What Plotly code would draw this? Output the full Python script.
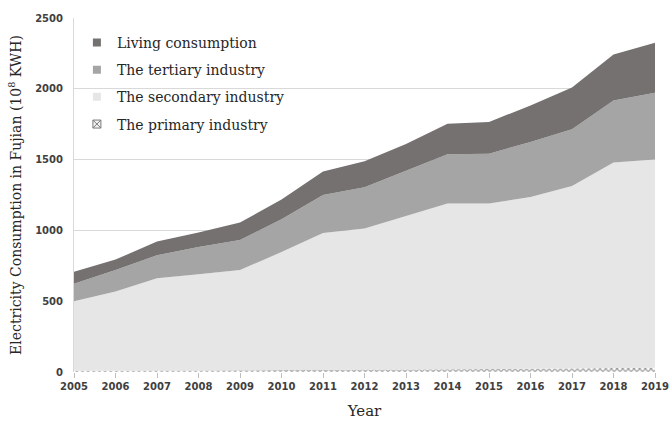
import plotly.graph_objects as go

# Electricity consumption in Fujian by sector (10^8 kWh)
years = [2005, 2006, 2007, 2008, 2009, 2010, 2011, 2012, 2013, 2014, 2015, 2016, 2017, 2018, 2019]
primary = [8, 9, 10, 11, 12, 14, 15, 17, 18, 20, 21, 23, 25, 28, 30]
secondary = [492, 560, 652, 679, 708, 833, 967, 997, 1084, 1170, 1169, 1213, 1288, 1451, 1470]
tertiary = [123, 152, 162, 192, 212, 232, 268, 291, 319, 347, 352, 389, 402, 438, 472]
living = [85, 73, 97, 104, 124, 139, 166, 183, 190, 217, 224, 257, 295, 326, 354]

names = ["The primary industry", "The secondary industry", "The tertiary industry", "Living consumption"]
colors = ["#ffffff", "#e7e6e6", "#a5a5a5", "#767171"]
pattern = dict(shape="x", fgcolor="#3a3a3a", bgcolor="#ffffff", size=4, solidity=0.5)

serif = "DejaVu Serif"
sans = "DejaVu Sans"

fig = go.Figure()

# stacked areas, bottom to top
for i, vals in enumerate([primary, secondary, tertiary, living]):
    kw = dict(fillpattern=pattern) if i == 0 else {}
    fig.add_trace(go.Scatter(
        x=years, y=vals, name=names[i], stackgroup="s",
        mode="none", fillcolor=colors[i], showlegend=False, **kw,
    ))

# small square legend keys, top to bottom
for i in [3, 2, 1, 0]:
    if i == 0:
        marker = dict(symbol="square-x", size=8, color="#f2f2f2",
                      line=dict(color="#7a7a7a", width=1))
    else:
        marker = dict(symbol="square", size=8, color=colors[i], line=dict(width=0))
    fig.add_trace(go.Scatter(
        x=[None], y=[None], name=names[i], mode="markers", marker=marker,
        legendgroup=names[i], showlegend=True,
    ))

fig.update_layout(
    width=669, height=422,
    margin=dict(l=74, r=14, t=12, b=50),
    paper_bgcolor="#ffffff", plot_bgcolor="#ffffff",
    showlegend=True,
    legend=dict(
        x=0.005, y=0.975, xanchor="left", yanchor="top",
        traceorder="grouped", bgcolor="rgba(0,0,0,0)",
        font=dict(family=serif, size=14, color="#262626"),
        itemwidth=30, tracegroupgap=6,
    ),
    xaxis=dict(
        range=[2005, 2019], tickmode="array", tickvals=years,
        ticktext=[str(y) for y in years],
        showgrid=False, zeroline=False,
        showline=False, automargin=False,
        ticks="outside", ticklen=5, tickcolor="#bfbfbf",
        tickfont=dict(family=sans, size=10, color="#404040", weight="bold"),
        title=dict(text="Year", font=dict(family=serif, size=15, color="#262626"), standoff=14),
    ),
    yaxis=dict(
        range=[0, 2500], tickvals=[0, 500, 1000, 1500, 2000, 2500],
        showgrid=True, gridcolor="#d9d9d9", gridwidth=1,
        zeroline=False, showline=True, linecolor="#d9d9d9", linewidth=1,
        ticks="", ticklabelstandoff=8,
        tickfont=dict(family=sans, size=10, color="#404040", weight="bold"),
        title=dict(text="Electricity Consumption in Fujian (10<sup>8</sup> KWH)",
                   font=dict(family=serif, size=14, color="#262626"), standoff=10),
    ),
)

fig.write_html("out.html")
